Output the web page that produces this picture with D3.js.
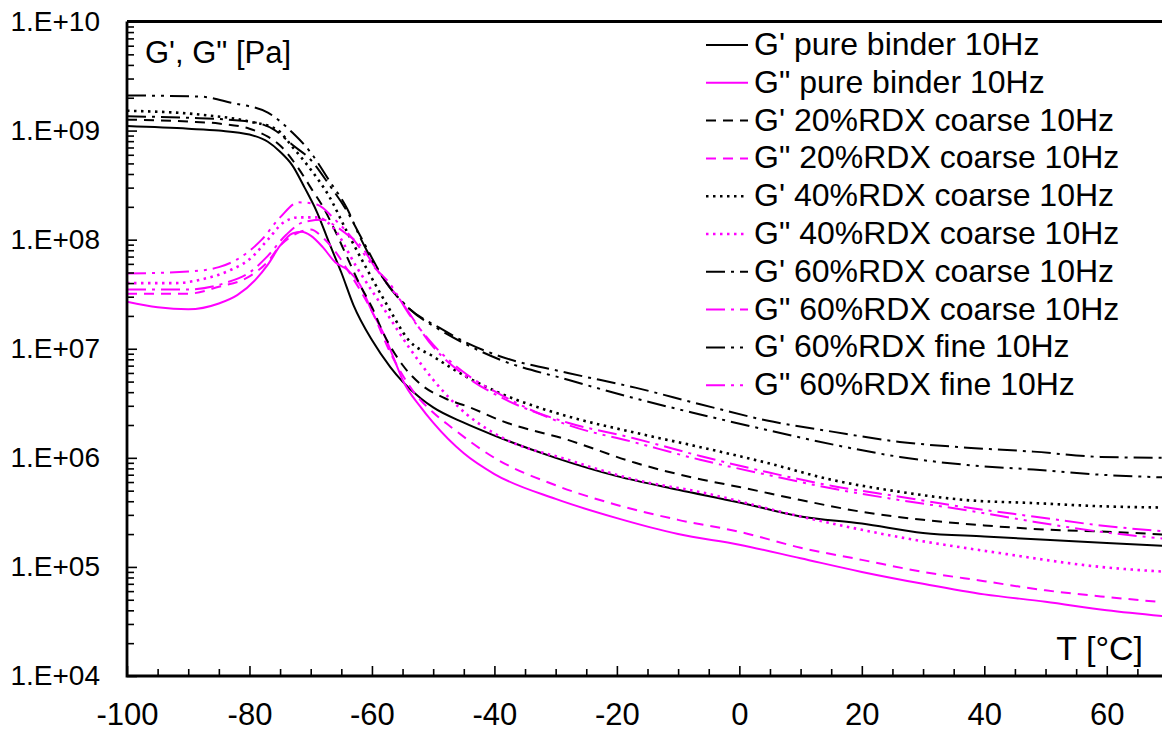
<!DOCTYPE html>
<html>
<head>
<meta charset="utf-8">
<script src="https://cdn.jsdelivr.net/npm/d3@7/dist/d3.min.js"></script>
<style>
body { margin: 0; background: #fff; }
svg { display: block; font-family: "Liberation Sans", Arial, sans-serif; }
</style>
</head>
<body>
<script>
var width = 1162,
    height = 731,
    plotLeft = 127,
    plotRight = 1168,
    plotTop = 21.5,
    plotBottom = 676;

// [T in °C, modulus in Pa]
var gPure = [[-100,1.1e9],[-90,1.04e9],[-85,1.0e9],[-80,9.2e8],[-77,7.9e8],[-75,6.4e8],[-73,4.8e8],[-71,3.0e8],[-69,1.8e8],[-67,9.4e7],[-65,5.0e7],[-63,2.5e7],[-60,1.2e7],[-57,6.8e6],[-55,5.0e6],[-52,3.5e6],[-50,2.9e6],[-45,2.1e6],[-40,1.6e6],[-30,1.0e6],[-20,6.8e5],[-10,5.1e5],[0,3.9e5],[10,2.9e5],[20,2.5e5],[30,2.05e5],[40,1.9e5],[50,1.77e5],[60,1.66e5],[70,1.55e5]];
var gPurePP = [[-100,2.7e7],[-95,2.4e7],[-90,2.3e7],[-85,2.6e7],[-82,3.1e7],[-79,4.3e7],[-77,5.9e7],[-75,8.8e7],[-73,1.14e8],[-71.5,1.18e8],[-70,1.09e8],[-68,8.5e7],[-66,6.2e7],[-64,5.3e7],[-62,3.9e7],[-60,2.2e7],[-58,1.34e7],[-56,7.1e6],[-55,5.2e6],[-52,2.9e6],[-50,2.1e6],[-45,1.1e6],[-40,7.1e5],[-30,4.2e5],[-20,2.8e5],[-10,2.0e5],[0,1.6e5],[10,1.2e5],[20,9.0e4],[30,7.0e4],[40,5.6e4],[50,4.8e4],[60,4.0e4],[70,3.5e4]];
var g20c = [[-100,1.26e9],[-90,1.21e9],[-85,1.16e9],[-80,1.04e9],[-77,8.8e8],[-75,7.3e8],[-73,5.4e8],[-71,3.7e8],[-70,3.0e8],[-68,2.0e8],[-66,1.2e8],[-64,6.8e7],[-62,3.9e7],[-60,2.4e7],[-58,1.34e7],[-55,7.1e6],[-52,4.7e6],[-48,3.5e6],[-44,2.9e6],[-39,2.2e6],[-28,1.46e6],[-17,9.0e5],[-6,6.3e5],[0,5.4e5],[10,4.1e5],[20,3.2e5],[30,2.7e5],[40,2.4e5],[50,2.2e5],[60,2.1e5],[70,1.97e5]];
var g20cPP = [[-100,3.2e7],[-90,3.2e7],[-85,3.7e7],[-80,4.6e7],[-77,6.3e7],[-75,8.8e7],[-72,1.16e8],[-70,1.24e8],[-68,1.04e8],[-66,7.8e7],[-64,5.3e7],[-62,3.5e7],[-60,2.2e7],[-57,9.2e6],[-53,3.9e6],[-50,2.6e6],[-47,1.9e6],[-40,1.0e6],[-30,5.6e5],[-20,3.7e5],[-10,2.7e5],[0,2.1e5],[10,1.5e5],[20,1.16e5],[30,9.0e4],[40,7.4e4],[50,6.1e4],[60,5.3e4],[70,4.7e4]];
var g40c = [[-100,1.52e9],[-88,1.4e9],[-80,1.21e9],[-75.5,1.02e9],[-73,7.1e8],[-70,4.4e8],[-67,2.5e8],[-64,1.16e8],[-61,5.6e7],[-57.5,2.5e7],[-54,1.2e7],[-50,8.5e6],[-44.5,5.5e6],[-39,3.9e6],[-28,2.4e6],[-17,1.7e6],[-6,1.24e6],[4.5,9.0e5],[15,6.3e5],[26,4.9e5],[37,4.1e5],[48,3.85e5],[59,3.6e5],[70,3.5e5]];
var g40cPP = [[-100,4.0e7],[-92,4.0e7],[-88,4.3e7],[-83,5.3e7],[-80,6.6e7],[-77,1.0e8],[-74.5,1.43e8],[-72,1.6e8],[-69,1.6e8],[-66.4,1.3e8],[-62.5,5.6e7],[-58,2.3e7],[-54,1.04e7],[-50,5.2e6],[-44.5,2.5e6],[-39,1.56e6],[-28,9.6e5],[-17,6.3e5],[-6,4.8e5],[10,2.9e5],[26,1.88e5],[42.5,1.34e5],[59,1.0e5],[70,9.0e4]];
var g60c = [[-100,1.35e9],[-90,1.31e9],[-80,1.21e9],[-76,1.02e9],[-73,7.4e8],[-70,5.4e8],[-67,3.2e8],[-64,1.8e8],[-62,1.11e8],[-57.6,4.0e7],[-53.8,2.3e7],[-49,1.56e7],[-44.5,1.13e7],[-39,8.5e6],[-28,6.0e6],[-17,4.4e6],[-6.4,3.1e6],[4.5,2.2e6],[15.4,1.73e6],[26.2,1.4e6],[37.2,1.24e6],[48,1.14e6],[59,1.02e6],[70,1.0e6]];
var g60cPP = [[-100,3.5e7],[-90,3.5e7],[-84,4.0e7],[-80,5.0e7],[-77,7.1e7],[-74,1.11e8],[-71,1.46e8],[-68,1.52e8],[-66,1.34e8],[-64,1.11e8],[-62,9.0e7],[-59,5.1e7],[-55.4,2.8e7],[-50,1.04e7],[-44.5,5.5e6],[-39,3.6e6],[-28,2.1e6],[-17.4,1.52e6],[-6.4,1.04e6],[4.5,7.4e5],[15.4,5.5e5],[26.2,4.4e5],[37.2,3.5e5],[48,2.9e5],[59,2.4e5],[70,2.1e5]];
var g60f = [[-100,2.1e9],[-88,2.05e9],[-83,1.8e9],[-77,1.46e9],[-73,9.6e8],[-70,6.3e8],[-67,3.5e8],[-64,1.9e8],[-62,1.07e8],[-57.6,4.0e7],[-53.8,2.3e7],[-49,1.5e7],[-44.5,1.09e7],[-39,7.9e6],[-28,5.2e6],[-17,3.5e6],[-6.4,2.5e6],[4.5,1.8e6],[15.4,1.32e6],[26.2,1.02e6],[37.2,8.6e5],[48,7.8e5],[59,7.0e5],[70,6.6e5]];
var g60fPP = [[-100,4.9e7],[-90,5.1e7],[-85,5.6e7],[-82,6.6e7],[-78,1.0e8],[-75,1.6e8],[-72,2.2e8],[-69,2.1e8],[-66,1.52e8],[-63,1.0e8],[-60,5.9e7],[-57,3.9e7],[-54,2.1e7],[-50,1.09e7],[-44.5,5.8e6],[-39,3.8e6],[-28,2.0e6],[-17.4,1.4e6],[-6.4,9.6e5],[4.5,7.0e5],[15.4,5.2e5],[26.2,4.1e5],[37.2,3.3e5],[48,2.6e5],[59,2.1e5],[70,1.8e5]];

var seriesNames = ["G' pure binder 10Hz", "G\" pure binder 10Hz",
    "G' 20%RDX coarse 10Hz", "G\" 20%RDX coarse 10Hz",
    "G' 40%RDX coarse 10Hz", "G\" 40%RDX coarse 10Hz",
    "G' 60%RDX coarse 10Hz", "G\" 60%RDX coarse 10Hz",
    "G' 60%RDX fine 10Hz", "G\" 60%RDX fine 10Hz"];
var seriesData = [gPure, gPurePP, g20c, g20cPP, g40c, g40cPP, g60c, g60cPP, g60f, g60fPP];

var xTicks = [-100, -80, -60, -40, -20, 0, 20, 40, 60];
var yTicks = [1e4, 1e5, 1e6, 1e7, 1e8, 1e9, 1e10];

// line styles: G' black, G" magenta
var dashes = ["none", "10,7", "2.5,4.5", "19,6,3,6", "19,6,3,6,3,6"];

var x = d3.scaleLinear().domain([-100, 70]).range([plotLeft, plotRight]),
    y = d3.scaleLog().domain([1e4, 1e10]).range([plotBottom, plotTop]);

var figure = d3.select("body")
    .append("svg")
        .attr("width", width)
        .attr("height", height);

figure.append("clipPath")
    .attr("id", "plot")
    .append("rect")
        .attr("x", plotLeft)
        .attr("y", plotTop)
        .attr("width", width - plotLeft)
        .attr("height", plotBottom - plotTop);

var line = d3.line()
    .x(function(d) { return x(d[0]); })
    .y(function(d) { return y(d[1]); })
    .curve(d3.curveMonotoneX);

// add the curves
figure.append("g")
    .attr("clip-path", "url(#plot)")
    .selectAll("path")
    .data(seriesData)
    .enter()
    .append("path")
        .attr("d", line)
        .attr("fill", "none")
        .attr("stroke", function(d, i) { return i % 2 ? "#ff00ff" : "#000"; })
        .attr("stroke-width", function(d, i) { return Math.floor(i / 2) == 2 ? 2.6 : 2; })
        .attr("stroke-dasharray", function(d, i) { return dashes[Math.floor(i / 2)]; });

// minor ticks
var yMinor = [];
yTicks.slice(0, -1).forEach(function(p) {
    for (var k = 2; k < 10; k++) yMinor.push(p * k);
});
var xMinor = d3.range(-95, 70, 5).filter(function(t) { return t % 20 != 0; });

figure.append("g")
    .attr("class", "axis")
    .attr("transform", "translate(" + plotLeft + ",0)")
    .call(d3.axisLeft(y).tickValues(yMinor).tickSize(-7).tickFormat(""));

figure.append("g")
    .attr("class", "axis")
    .attr("transform", "translate(0," + plotBottom + ")")
    .call(d3.axisBottom(x).tickValues(xMinor).tickSize(-7).tickFormat(""));

// major ticks and labels
figure.append("g")
    .attr("class", "axis y")
    .attr("transform", "translate(" + plotLeft + ",0)")
    .call(d3.axisLeft(y)
        .tickValues(yTicks)
        .tickSize(-10)
        .tickPadding(27)
        .tickFormat(function(d) { return "1.E+" + d3.format("02")(Math.round(Math.log10(d))); }));

figure.append("g")
    .attr("class", "axis x")
    .attr("transform", "translate(0," + plotBottom + ")")
    .call(d3.axisBottom(x)
        .tickValues(xTicks)
        .tickSize(-10)
        .tickPadding(27)
        .tickFormat(function(d) { return String(d); }));

figure.selectAll(".axis path.domain").remove();
figure.selectAll(".axis line")
    .attr("stroke", "#000")
    .attr("stroke-width", 1.6);
figure.selectAll(".axis text")
    .attr("fill", "#000");
figure.selectAll(".axis.y text").style("font-size", "28px");
figure.selectAll(".axis.x text").style("font-size", "31px");

// axis lines and top border
figure.append("path")
    .attr("d", "M" + plotLeft + "," + plotTop + "V" + plotBottom + "H" + width + "M" + plotLeft + "," + plotTop + "H" + width)
    .attr("fill", "none")
    .attr("stroke", "#000")
    .attr("stroke-width", 2.8);

// axis titles
figure.append("text")
    .attr("x", 145)
    .attr("y", 63)
    .style("font-size", "31px")
    .text("G', G\" [Pa]");

figure.append("text")
    .attr("x", 1143)
    .attr("y", 660)
    .attr("text-anchor", "end")
    .style("font-size", "34px")
    .text("T [°C]");

// legend
var legend = figure.append("g")
    .selectAll("g")
    .data(seriesNames)
    .enter()
    .append("g")
        .attr("transform", function(d, i) { return "translate(706," + (45 + i * 37.8) + ")"; });

legend.append("line")
    .attr("x1", 0)
    .attr("x2", 42)
    .attr("stroke", function(d, i) { return i % 2 ? "#ff00ff" : "#000"; })
    .attr("stroke-width", function(d, i) { return Math.floor(i / 2) == 2 ? 2.6 : 2; })
    .attr("stroke-dasharray", function(d, i) { return dashes[Math.floor(i / 2)]; });

legend.append("text")
    .attr("x", 48)
    .attr("y", 10)
    .style("font-size", "32px")
    .text(function(d) { return d; });
</script>
</body>
</html>
